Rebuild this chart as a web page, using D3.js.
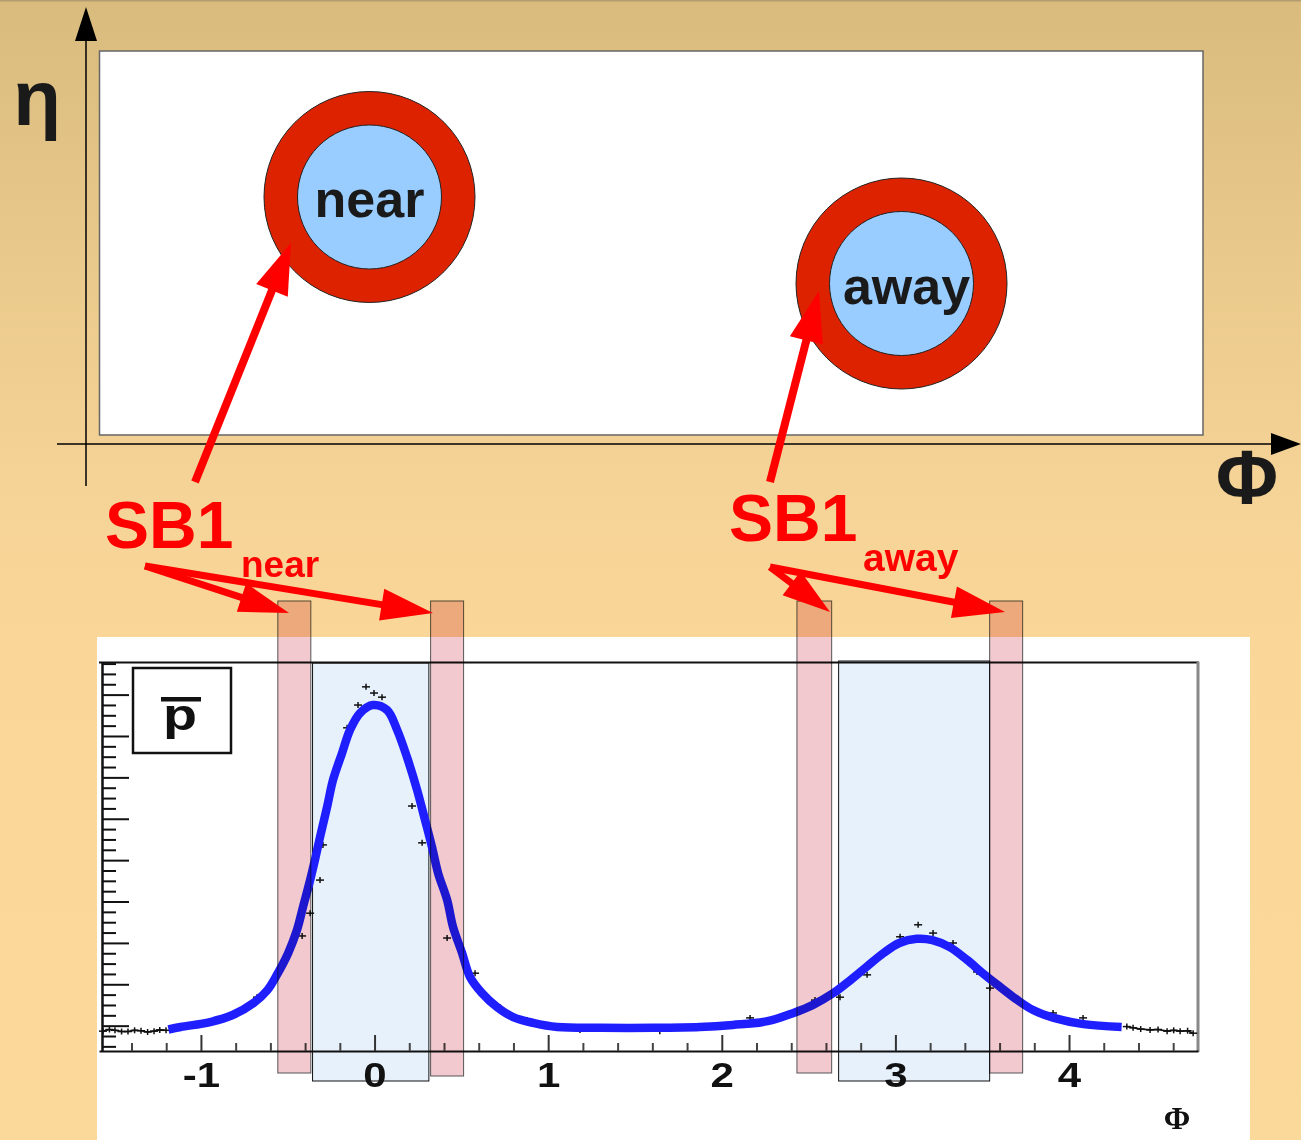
<!DOCTYPE html>
<html>
<head>
<meta charset="utf-8">
<script src="https://cdn.jsdelivr.net/npm/d3@7"></script>
<style>
  html, body { margin: 0; padding: 0; background: #FBD99B; }
  svg { display: block; }
</style>
</head>
<body>
<svg id="chart" width="1301" height="1140"></svg>
<script>
// ---- Φ distribution: fitted curve (blue) ----
const fitPhi = [-1.19, -1.12, -0.95, -0.82, -0.70, -0.62, -0.56, -0.50, -0.45, -0.415, -0.374, -0.346, -0.317, -0.276, -0.242, -0.19, -0.144, -0.086, -0.012, 0.069, 0.127, 0.184, 0.242, 0.288, 0.328, 0.363, 0.415, 0.449, 0.501, 0.547, 0.616, 0.703, 0.795, 0.91, 1.05, 1.3, 1.6, 1.87, 2.06, 2.26, 2.41, 2.52, 2.64, 2.74, 2.83, 2.93, 3.02, 3.12, 3.21, 3.31, 3.41, 3.50, 3.60, 3.70, 3.79, 3.91, 4.08, 4.30];
const fitVal = [0.92, 0.98, 1.10, 1.27, 1.56, 1.87, 2.28, 2.77, 3.32, 3.88, 4.53, 5.02, 5.57, 6.30, 6.95, 7.60, 8.16, 8.57, 8.76, 8.64, 8.16, 7.50, 6.71, 5.98, 5.33, 4.70, 4.05, 3.40, 2.77, 2.19, 1.80, 1.46, 1.22, 1.08, 0.98, 0.96, 0.96, 0.98, 1.03, 1.12, 1.32, 1.51, 1.80, 2.12, 2.43, 2.77, 3.01, 3.11, 3.08, 2.91, 2.60, 2.28, 1.95, 1.63, 1.39, 1.20, 1.05, 0.98];

// ---- Φ distribution: measured bins (black) ----
const dataPhi = [-1.567, -1.530, -1.498, -1.460, -1.423, -1.385, -1.348, -1.310, -1.273, -1.240, -1.204, -0.876, -0.737, -0.680, -0.420, -0.374, -0.317, -0.300, -0.161, -0.098, -0.052, -0.006, 0.040, 0.213, 0.271, 0.415, 0.576, 0.703, 0.876, 1.18, 1.41, 1.64, 1.87, 2.160, 2.258, 2.534, 2.678, 2.834, 2.909, 3.024, 3.128, 3.214, 3.329, 3.467, 3.542, 3.905, 4.078, 4.330, 4.366, 4.410, 4.464, 4.510, 4.562, 4.600, 4.637, 4.680, 4.712];
const dataVal = [0.88, 0.92, 0.90, 0.87, 0.87, 0.90, 0.89, 0.86, 0.88, 0.91, 0.90, 1.20, 1.44, 1.70, 3.18, 3.73, 4.53, 5.38, 8.21, 8.76, 9.20, 9.05, 8.95, 6.32, 5.43, 3.13, 2.28, 1.51, 1.15, 0.91, 0.93, 0.88, 0.96, 1.20, 1.15, 1.63, 1.70, 2.24, 2.67, 3.16, 3.45, 3.25, 3.01, 2.31, 1.92, 1.32, 1.20, 0.99, 0.96, 0.93, 0.91, 0.92, 0.88, 0.90, 0.88, 0.89, 0.83];

// ---- Φ windows ----
const signalLo = [-0.36, 2.67];
const signalHi = [0.31, 3.54];
const sidebandLo = [-0.56, 0.32, 2.43, 3.54];
const sidebandHi = [-0.37, 0.51, 2.63, 3.73];

// ---- axis ticks ----
const xTickValues = [-1, 0, 1, 2, 3, 4];
const xTickLabels = ["-1", "0", "1", "2", "3", "4"];
const xMinorStep = 0.2;
const yMajorTicks = [1, 2, 3, 4, 5, 6, 7, 8, 9];
const yMinorStep = 0.25;

// ---- labels ----
const regionNames = ["near", "away"];
const legendLabel = "p";
const axisPhi = "Φ";
const axisEta = "η";
const sidebandLabel = "SB1";

const svg = d3.select("#chart");
const sans = "Liberation Sans, Arial, sans-serif";

// background
const defs = svg.append("defs");
const grad = defs.append("linearGradient").attr("id", "bg")
  .attr("x1", 0).attr("y1", 0).attr("x2", 0).attr("y2", 1);
[[0, "#D8BB7D"], [0.2, "#E8C88A"], [0.42, "#F5D296"], [0.56, "#FAD798"], [1, "#FBD99B"]]
  .forEach(([o, c]) => grad.append("stop").attr("offset", o).attr("stop-color", c));
svg.append("rect").attr("width", 1301).attr("height", 1140).attr("fill", "url(#bg)");
svg.append("line").attr("x1", 0).attr("x2", 1301).attr("y1", 0.75).attr("y2", 0.75)
  .attr("stroke", "#B39C70").attr("stroke-width", 1.5);

// ---------- upper η–Φ diagram ----------
svg.append("rect").attr("x", 99.5).attr("y", 51).attr("width", 1103.5).attr("height", 384)
  .attr("fill", "#fff").attr("stroke", "#666").attr("stroke-width", 1.5);

const jets = [{cx: 369.5, cy: 197}, {cx: 901.5, cy: 283.5}];
const jetG = svg.append("g");
jets.forEach((j, i) => {
  jetG.append("circle").attr("cx", j.cx).attr("cy", j.cy).attr("r", 105.5)
    .attr("fill", "#DD2200").attr("stroke", "#222").attr("stroke-width", 1);
  jetG.append("circle").attr("cx", j.cx).attr("cy", j.cy).attr("r", 72)
    .attr("fill", "#99CCFF").attr("stroke", "#222").attr("stroke-width", 1);
  jetG.append("text").attr("x", j.cx + (i ? 5 : 0)).attr("y", j.cy + 20)
    .attr("text-anchor", "middle").attr("font-family", sans)
    .attr("font-weight", "bold").attr("font-size", 52).attr("fill", "#1A1A1A")
    .text(regionNames[i]);
});

// coordinate axes with arrowheads
svg.append("line").attr("x1", 86).attr("x2", 86).attr("y1", 38).attr("y2", 486)
  .attr("stroke", "#000").attr("stroke-width", 1.5);
svg.append("polygon").attr("points", "86,7 75,41 97,41").attr("fill", "#000");
svg.append("line").attr("x1", 57).attr("x2", 1273).attr("y1", 444).attr("y2", 444)
  .attr("stroke", "#000").attr("stroke-width", 1.5);
svg.append("polygon").attr("points", "1301,444 1271,433 1271,455").attr("fill", "#000");

svg.append("text").attr("x", 37).attr("y", 125).attr("text-anchor", "middle")
  .attr("font-family", sans).attr("font-weight", "bold")
  .attr("font-size", 78).attr("fill", "#1A1A1A").text(axisEta);
svg.append("text").attr("x", 1247).attr("y", 504).attr("text-anchor", "middle")
  .attr("font-family", sans).attr("font-weight", "bold")
  .attr("font-size", 76).attr("fill", "#1A1A1A").text(axisPhi);

// ---------- lower Φ histogram ----------
svg.append("rect").attr("x", 97).attr("y", 637).attr("width", 1153).attr("height", 503).attr("fill", "#fff");

const x = d3.scaleLinear().domain([-1.59, 4.74]).range([99, 1198]);
const y = d3.scaleLinear().domain([0.4, 9.8]).range([1051, 662]);

// signal windows (behind the curve)
const sigG = svg.append("g");
signalLo.forEach((lo, i) => {
  const top = i ? 661 : 663;
  sigG.append("rect").attr("x", x(lo)).attr("y", top)
    .attr("width", x(signalHi[i]) - x(lo)).attr("height", 1081 - top)
    .attr("fill", "#E6F1FC").attr("stroke", "#111").attr("stroke-width", 1);
});

// frame
const frame = svg.append("g");
frame.append("line").attr("x1", 99).attr("x2", 1199).attr("y1", 662.5).attr("y2", 662.5)
  .attr("stroke", "#111").attr("stroke-width", 2);
frame.append("line").attr("x1", 1198).attr("x2", 1198).attr("y1", 662).attr("y2", 1052)
  .attr("stroke", "#888").attr("stroke-width", 3);

// x axis
const xMinor = d3.range(-1.4, 4.7, xMinorStep).filter(v => Math.abs(v - Math.round(v)) > 0.01);
const xAxis = d3.axisBottom(x).tickValues(xTickValues).tickSize(0).tickFormat("");
const xg = svg.append("g").attr("transform", "translate(0,1051)").call(xAxis);
xg.select(".domain").attr("stroke", "#111").attr("stroke-width", 2);
xg.selectAll(".xmaj").data(xTickValues).enter().append("line")
  .attr("x1", d => x(d)).attr("x2", d => x(d)).attr("y1", 0).attr("y2", -16)
  .attr("stroke", "#333").attr("stroke-width", 2);
xg.selectAll(".xmin").data(xMinor).enter().append("line")
  .attr("x1", d => x(d)).attr("x2", d => x(d)).attr("y1", 0).attr("y2", -8)
  .attr("stroke", "#444").attr("stroke-width", 2);
svg.append("g").selectAll("text").data(xTickValues).enter().append("text")
  .attr("transform", d => `translate(${x(d)},1087) scale(1.2,1)`)
  .attr("text-anchor", "middle").attr("font-family", sans)
  .attr("font-weight", "bold").attr("font-size", 35).attr("fill", "#111")
  .text((d, i) => xTickLabels[i]);
svg.append("text").attr("x", 1177).attr("y", 1129).attr("text-anchor", "middle")
  .attr("font-family", "Liberation Serif, Times New Roman, serif").attr("font-weight", "bold")
  .attr("font-size", 32).attr("fill", "#111").text(axisPhi);

// y axis (ticks only)
const yMinor = d3.range(0.5, 9.8, yMinorStep).filter(v => Math.abs(v - Math.round(v)) > 0.01);
const yAxis = d3.axisLeft(y).tickValues(yMajorTicks).tickSize(0).tickFormat("");
const yg = svg.append("g").attr("transform", "translate(102,0)").call(yAxis);
yg.select(".domain").attr("stroke", "#111").attr("stroke-width", 2.5);
yg.selectAll(".ymaj").data(yMajorTicks).enter().append("line")
  .attr("x1", 0).attr("x2", 27).attr("y1", d => y(d)).attr("y2", d => y(d))
  .attr("stroke", "#111").attr("stroke-width", 2);
yg.selectAll(".ymin").data(yMinor).enter().append("line")
  .attr("x1", 0).attr("x2", 14).attr("y1", d => y(d)).attr("y2", d => y(d))
  .attr("stroke", "#111").attr("stroke-width", 2);

// measured bins: the tails outside the fit range read as a continuous trace
const fitMin = d3.min(fitPhi), fitMax = d3.max(fitPhi);
const dataPts = dataPhi.map((p, i) => [p, dataVal[i]]);
const traceLine = d3.line().x(d => x(d[0])).y(d => y(d[1]));
[dataPts.filter(d => d[0] <= fitMin + 0.02), dataPts.filter(d => d[0] >= fitMax - 0.02)].forEach(seg => {
  svg.append("path").datum(seg).attr("d", traceLine)
    .attr("fill", "none").attr("stroke", "#111").attr("stroke-width", 1.6);
});
const dataG = svg.append("g").attr("stroke", "#111").attr("stroke-width", 1.5);
dataPts.forEach(([p, v]) => {
  const cx = x(p), cy = y(v);
  dataG.append("line").attr("x1", cx - 4).attr("x2", cx + 4).attr("y1", cy).attr("y2", cy);
  dataG.append("line").attr("x1", cx).attr("x2", cx).attr("y1", cy - 3).attr("y2", cy + 3);
});

// fitted curve
const fitPts = fitPhi.map((p, i) => [p, fitVal[i]]);
svg.append("path").datum(fitPts)
  .attr("d", d3.line().x(d => x(d[0])).y(d => y(d[1])).curve(d3.curveCatmullRom))
  .attr("fill", "none").attr("stroke", "#1E1EFF").attr("stroke-width", 8.5)
  .attr("stroke-linejoin", "round");

// sideband windows, tinted over the histogram
const sbG = svg.append("g");
sidebandLo.forEach((lo, i) => {
  sbG.append("rect").attr("x", x(lo)).attr("y", 601)
    .attr("width", x(sidebandHi[i]) - x(lo)).attr("height", (i === 1 ? 1076 : 1073) - 601)
    .attr("fill", "#F2C9CF").style("mix-blend-mode", "multiply")
    .attr("stroke", "#555").attr("stroke-width", 1);
});

// legend box
svg.append("rect").attr("x", 133).attr("y", 668).attr("width", 98).attr("height", 85)
  .attr("fill", "#fff").attr("stroke", "#111").attr("stroke-width", 2.5);
svg.append("text").attr("x", 163).attr("y", 730)
  .attr("font-family", sans).attr("font-weight", "bold")
  .attr("font-size", 44).attr("fill", "#111")
  .attr("textLength", 34).attr("lengthAdjust", "spacingAndGlyphs").text(legendLabel);
svg.append("rect").attr("x", 161).attr("y", 697).attr("width", 40).attr("height", 4.5).attr("fill", "#111");

// ---------- red annotation arrows ----------
const arrowG = svg.append("g").attr("fill", "#FF0000");
function arrow(x1, y1, x2, y2, headLen, headHalf, shaftW) {
  const dx = x2 - x1, dy = y2 - y1, L = Math.hypot(dx, dy);
  const ux = dx / L, uy = dy / L, px = -uy, py = ux;
  const bx = x2 - ux * headLen, by = y2 - uy * headLen;
  arrowG.append("line").attr("x1", x1).attr("y1", y1).attr("x2", bx + ux * 3).attr("y2", by + uy * 3)
    .attr("stroke", "#FF0000").attr("stroke-width", shaftW);
  arrowG.append("polygon").attr("points",
    `${x2},${y2} ${bx + px * headHalf},${by + py * headHalf} ${bx - px * headHalf},${by - py * headHalf}`);
}
arrow(195, 482, 291, 243, 51, 17, 8);
arrow(770, 482, 819, 291, 51, 17, 8);
arrow(145, 566, 289, 613, 50, 15, 7);
arrow(145, 566, 433, 613, 52, 16, 7);
arrow(770, 567, 830, 612, 48, 15, 7);
arrow(770, 567, 1005, 612, 52, 16, 7);

const sbText = [
  {x: 105, y: 548, sx: 241, sy: 577, sub: regionNames[0], subSize: 37},
  {x: 729, y: 541, sx: 863, sy: 571, sub: regionNames[1], subSize: 39}
];
sbText.forEach(t => {
  svg.append("text").attr("x", t.x).attr("y", t.y)
    .attr("font-family", sans).attr("font-weight", "bold")
    .attr("font-size", 66).attr("fill", "#FF0000").text(sidebandLabel);
  svg.append("text").attr("x", t.sx).attr("y", t.sy)
    .attr("font-family", sans).attr("font-weight", "bold")
    .attr("font-size", t.subSize).attr("fill", "#FF0000").text(t.sub);
});
</script>
</body>
</html>
